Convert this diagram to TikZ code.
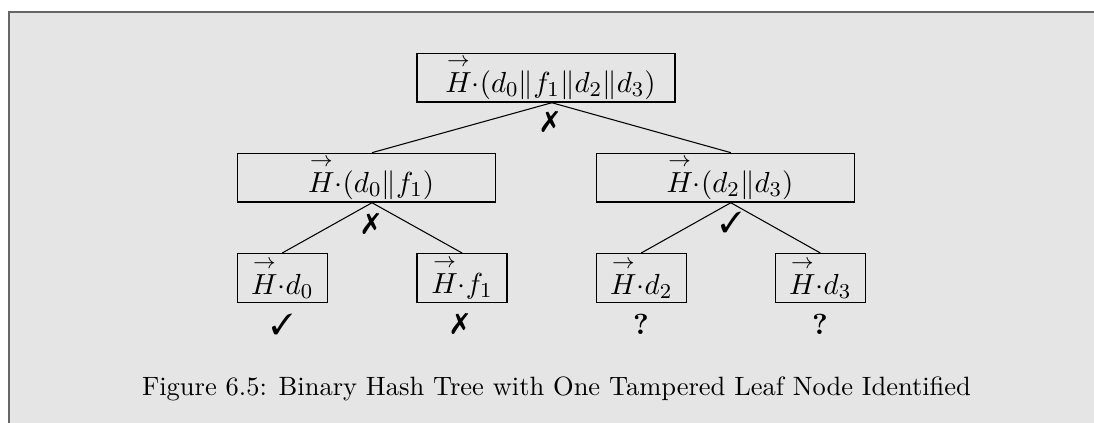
\documentclass[tikz,border=0pt]{standalone}
\usepackage{amsmath}
\usepackage{pifont}
\newcommand{\hv}{\overset{\rightarrow}{H}}
\begin{document}
\begin{tikzpicture}[x=0.3774pt,y=-0.3774pt,
  big/.style={font=\fontsize{10.95}{13.6}\selectfont},
  hbox/.style={draw,line width=0.5pt,minimum height=18.4pt,inner sep=0pt,big},
  innerbox/.style={hbox,minimum width=97.4pt},
  leafbox/.style={hbox,minimum width=34pt},
  verdict/.style={inner sep=0pt,big},
  conn/.style={line width=0.4pt}]
\useasboundingbox (0,0) rectangle (1094,423);
\fill[white] (0,0) rectangle (1094,423);
\fill[black!10] (8.75,11.75) rectangle (1094,423);
\draw[black!60,line width=0.6pt] (8.75,423) -- (8.75,11.75) -- (1094,11.75);
% nodes
\node[innerbox] (root) at (546,77.7) {\hspace*{3.4pt}$\hv{\cdot}(d_0\|f_1\|d_2\|d_3)$};
\node[innerbox] (m1) at (366.7,177.7) {\hspace*{3.4pt}$\hv{\cdot}(d_0\|f_1)$};
\node[innerbox] (m2) at (725.5,177.7) {\hspace*{3.4pt}$\hv{\cdot}(d_2\|d_3)$};
\node[leafbox] (l0) at (282.3,278) {$\hv{\cdot}d_0$};
\node[leafbox] (l1) at (462,278) {$\hv{\cdot}f_1$};
\node[leafbox] (l2) at (641.3,278) {$\hv{\cdot}d_2$};
\node[leafbox] (l3) at (820.3,278) {$\hv{\cdot}d_3$};
% connectors
\draw[conn] ([xshift=2.2pt]root.south) -- ([xshift=2pt]m1.north);
\draw[conn] ([xshift=2.2pt]root.south) -- ([xshift=2pt]m2.north);
\draw[conn] ([xshift=2pt]m1.south) -- (l0.north);
\draw[conn] ([xshift=2pt]m1.south) -- (l1.north);
\draw[conn] ([xshift=2pt]m2.south) -- (l2.north);
\draw[conn] ([xshift=2pt]m2.south) -- (l3.north);
% verdicts
\node[verdict] (vr) at (550,122) {\ding{55}};
\node[verdict] (vm1) at (371,224) {\ding{55}};
\node[verdict] (vm2) at (731,222) {\ding{51}};
\node[verdict] (vl0) at (282,324) {\ding{51}};
\node[verdict] (vl1) at (460,324) {\ding{55}};
\node[verdict] (vl2) at (641,324) {\textbf{?}};
\node[verdict] (vl3) at (820,324) {\textbf{?}};
% caption
\node[anchor=base,inner sep=0pt] (cap) at (556.5,396) {Figure 6.5: Binary Hash Tree with One Tampered Leaf Node Identified};
\end{tikzpicture}
\end{document}
